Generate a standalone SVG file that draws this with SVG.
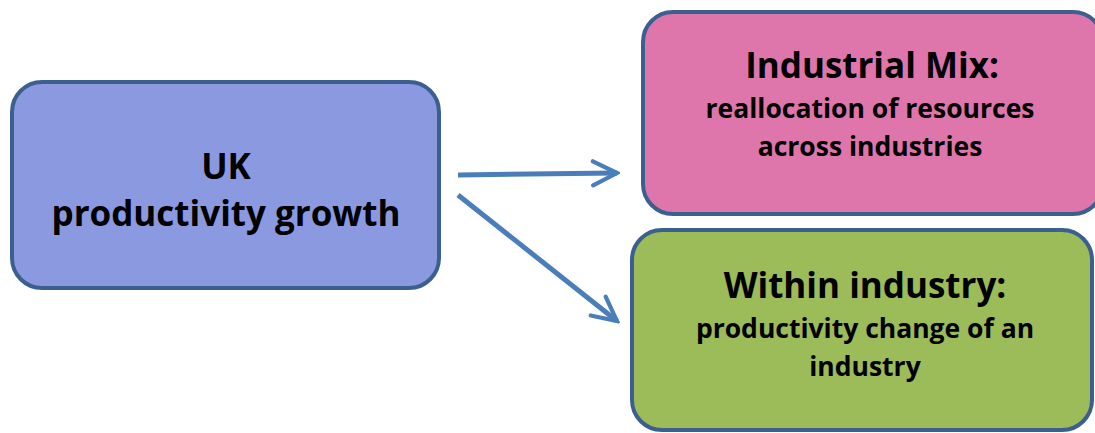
<svg xmlns="http://www.w3.org/2000/svg" width="1095" height="433" viewBox="0 0 1095 433">
  <style>
    .box { stroke: #3B5F8F; stroke-width: 4; }
    .t { font-family: "Open Sans", "Liberation Sans", Arial, sans-serif; font-weight: bold; fill: #000; text-anchor: middle; }
    .big { font-size: 35px; }
    .small { font-size: 26.5px; }
    .conn { stroke: #4A7EBB; stroke-width: 5; fill: none; stroke-linecap: butt; }
  </style>
  <defs>
    <marker id="arrow" viewBox="0 0 10 10" refX="9" refY="5" markerWidth="6" markerHeight="6" markerUnits="strokeWidth" orient="auto">
      <path d="M1,1 L9,5 L1,9" fill="none" stroke="#4A7EBB" stroke-width="1.4" stroke-linecap="round" stroke-linejoin="miter"/>
    </marker>
  </defs>
  <rect width="1095" height="433" fill="#FFFFFF"/>

  <g id="uk-growth">
    <rect class="box" x="12" y="82" width="427" height="206" rx="30" fill="#8A99E0"/>
    <text class="t big" x="226" y="179">UK</text>
    <text class="t big" x="226" y="226">productivity growth</text>
  </g>

  <g id="industrial-mix">
    <rect class="box" x="643" y="12" width="460" height="202" rx="30" fill="#DE76AC"/>
    <text class="t big" x="872" y="78">Industrial Mix:</text>
    <text class="t small" x="870" y="118">reallocation of resources</text>
    <text class="t small" x="870" y="156">across industries</text>
  </g>

  <g id="within-industry">
    <rect class="box" x="632" y="230" width="460" height="200" rx="30" fill="#9CBB59"/>
    <text class="t big" x="865" y="298">Within industry:</text>
    <text class="t small" x="865" y="338">productivity change of an</text>
    <text class="t small" x="865" y="376">industry</text>
  </g>

  <g id="connectors">
    <line class="conn" x1="458" y1="175" x2="617" y2="173" marker-end="url(#arrow)"/>
    <line class="conn" x1="458" y1="195" x2="617" y2="321" marker-end="url(#arrow)"/>
  </g>
</svg>
